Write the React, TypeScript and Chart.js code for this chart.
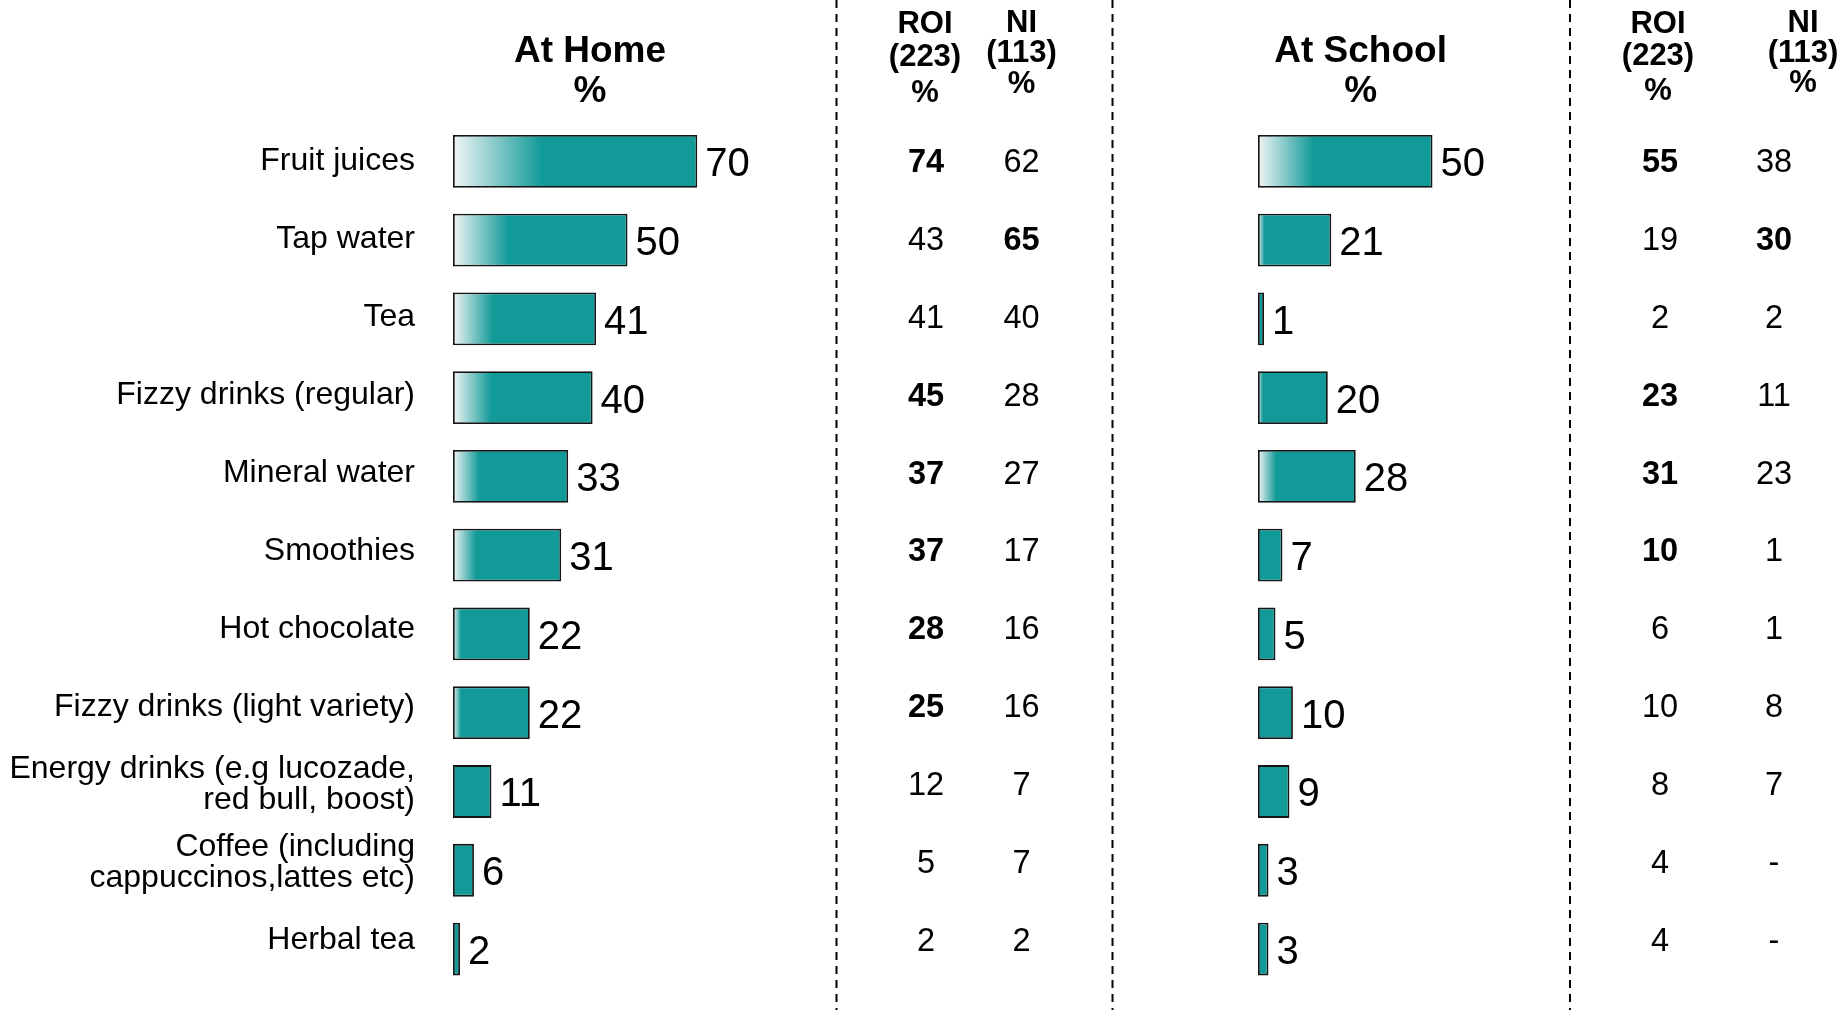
import React, { useEffect, useRef } from 'react';
import { Chart, registerables } from 'chart.js';

Chart.register(...registerables);

// ---------- data ----------
const categories: (string | string[])[] = [
  'Fruit juices',
  'Tap water',
  'Tea',
  'Fizzy drinks (regular)',
  'Mineral water',
  'Smoothies',
  'Hot chocolate',
  'Fizzy drinks (light variety)',
  ['Energy drinks (e.g lucozade,', 'red bull, boost)'],
  ['Coffee (including', 'cappuccinos,lattes etc)'],
  'Herbal tea',
];

const homeValues = [70, 50, 41, 40, 33, 31, 22, 22, 11, 6, 2];
const homeROI = ['74', '43', '41', '45', '37', '37', '28', '25', '12', '5', '2'];
const homeROIBold = [true, false, false, true, true, true, true, true, false, false, false];
const homeNI = ['62', '65', '40', '28', '27', '17', '16', '16', '7', '7', '2'];
const homeNIBold = [false, true, false, false, false, false, false, false, false, false, false];

const schoolValues = [50, 21, 1, 20, 28, 7, 5, 10, 9, 3, 3];
const schoolROI = ['55', '19', '2', '23', '31', '10', '6', '10', '8', '4', '4'];
const schoolROIBold = [true, false, false, true, true, true, false, false, false, false, false];
const schoolNI = ['38', '30', '2', '11', '23', '1', '1', '8', '7', '-', '-'];
const schoolNIBold = [false, true, false, false, false, false, false, false, false, false, false];

const homeTitle = ['At Home', '%'];
const schoolTitle = ['At School', '%'];
const roiHeader = ['ROI', '(223)', '%'];
const niHeader = ['NI', '(113)', '%'];

// ---------- style ----------
const FONT = "'Liberation Sans', Arial, Helvetica, sans-serif";
const TEAL = '#129a98';
const LIGHT = '#f1f5f5';
// text rows (labels and table) sit on a slightly tighter pitch than the bars
const TEXT_PITCH = 77.9 / 78.75;

function barFill(ctx: any) {
  const chart = ctx.chart;
  const xs = chart.scales && chart.scales.x;
  if (!xs || ctx.type !== 'data') return TEAL;
  const v = ctx.raw as number;
  const x0 = xs.getPixelForValue(0);
  const x1 = xs.getPixelForValue(v);
  if (!Number.isFinite(x0) || !Number.isFinite(x1)) return TEAL;
  const w = x1 - x0;
  const g = Math.max(0, 0.48 * (w - 60));
  if (!Number.isFinite(g) || g < 3) return TEAL;
  const grad = chart.ctx.createLinearGradient(x0, 0, x0 + g, 0);
  grad.addColorStop(0, LIGHT);
  grad.addColorStop(1, TEAL);
  return grad;
}

type TextSpec = { text: string; x: number; y: number; size: number; bold: boolean };
type ColSpec = { x: number; values: string[]; bold: boolean[] };

function textRowY(ys: any, i: number) {
  const y0 = ys.getPixelForValue(0);
  return y0 + (ys.getPixelForValue(i) - y0) * TEXT_PITCH;
}

function overlayPlugin(
  id: string,
  headers: TextSpec[],
  dashX: number[],
  cols: ColSpec[],
  labelRight: number | null
) {
  return {
    id,
    afterDatasetsDraw(chart: any) {
      const c = chart.ctx as CanvasRenderingContext2D;
      const ys = chart.scales.y;
      c.save();
      c.strokeStyle = '#000';
      c.lineWidth = 2;
      c.setLineDash([8, 6]);
      dashX.forEach((x) => {
        c.beginPath();
        c.moveTo(x, 0);
        c.lineTo(x, chart.height);
        c.stroke();
      });
      c.setLineDash([]);
      c.fillStyle = '#000';
      c.textAlign = 'center';
      c.textBaseline = 'alphabetic';
      headers.forEach((h) => {
        c.font = `${h.bold ? 'bold ' : ''}${h.size}px ${FONT}`;
        c.fillText(h.text, h.x, h.y);
      });
      // category labels
      if (labelRight !== null) {
        c.textAlign = 'right';
        c.textBaseline = 'middle';
        c.font = `32px ${FONT}`;
        (chart.data.labels as (string | string[])[]).forEach((lab, i) => {
          const lines = Array.isArray(lab) ? lab : [lab];
          const yc = textRowY(ys, i);
          lines.forEach((ln, j) => {
            c.fillText(ln, labelRight, yc + (j - (lines.length - 1) / 2) * 31);
          });
        });
        c.textBaseline = 'alphabetic';
      }
      // value labels
      const meta = chart.getDatasetMeta(0);
      const data = chart.data.datasets[0].data as number[];
      c.textAlign = 'left';
      c.font = `40px ${FONT}`;
      meta.data.forEach((el: any, i: number) => {
        c.fillText(String(data[i]), el.x + 8, el.y + 15);
      });
      // table columns
      c.textAlign = 'center';
      cols.forEach((col) => {
        col.values.forEach((v, i) => {
          const y = textRowY(ys, i);
          c.font = `${col.bold[i] ? 'bold ' : ''}32.5px ${FONT}`;
          c.fillText(v, col.x, y + 10.5);
        });
      });
      c.restore();
    },
  };
}

function baseDataset(values: number[]) {
  return {
    data: values,
    backgroundColor: barFill,
    borderColor: '#151515',
    borderWidth: 1.8,
    borderSkipped: false as const,
    barPercentage: 0.67,
    categoryPercentage: 1,
    minBarLength: 6,
  };
}

const W1 = 1120;
const W2 = 1847 - W1;
const H = 1010;
const AREA = 349; // x 0..100

export default function App() {
  const ref1 = useRef<HTMLCanvasElement>(null);
  const ref2 = useRef<HTMLCanvasElement>(null);

  useEffect(() => {
    const left1 = 453;
    const chart1 = new Chart(ref1.current!, {
      type: 'bar',
      data: { labels: categories as any, datasets: [baseDataset(homeValues) as any] },
      options: {
        indexAxis: 'y',
        responsive: false,
        animation: false,
        layout: { padding: { left: left1, right: W1 - left1 - AREA, top: 122, bottom: 21.6 } },
        plugins: { legend: { display: false }, tooltip: { enabled: false } },
        scales: {
          x: { display: false, min: 0, max: 100 },
          y: { display: false },
        },
      },
      plugins: [
        overlayPlugin(
          'overlay1',
          [
            { text: homeTitle[0], x: 590, y: 61.7, size: 37, bold: true },
            { text: homeTitle[1], x: 590, y: 101.5, size: 37, bold: true },
            { text: roiHeader[0], x: 925, y: 33.3, size: 31, bold: true },
            { text: roiHeader[1], x: 925, y: 65.5, size: 31, bold: true },
            { text: roiHeader[2], x: 925, y: 101.5, size: 31, bold: true },
            { text: niHeader[0], x: 1021.5, y: 31.7, size: 31, bold: true },
            { text: niHeader[1], x: 1021.5, y: 62, size: 31, bold: true },
            { text: niHeader[2], x: 1021.5, y: 93.3, size: 31, bold: true },
          ],
          [836.5, 1112.5],
          [
            { x: 926, values: homeROI, bold: homeROIBold },
            { x: 1021.5, values: homeNI, bold: homeNIBold },
          ],
          415
        ),
      ],
    });

    const left2 = 1258 - W1;
    const chart2 = new Chart(ref2.current!, {
      type: 'bar',
      data: { labels: categories as any, datasets: [baseDataset(schoolValues) as any] },
      options: {
        indexAxis: 'y',
        responsive: false,
        animation: false,
        layout: { padding: { left: left2, right: W2 - left2 - AREA, top: 122, bottom: 21.6 } },
        plugins: { legend: { display: false }, tooltip: { enabled: false } },
        scales: {
          x: { display: false, min: 0, max: 100 },
          y: { display: false },
        },
      },
      plugins: [
        overlayPlugin(
          'overlay2',
          [
            { text: schoolTitle[0], x: 1360.6 - W1, y: 61.7, size: 37, bold: true },
            { text: schoolTitle[1], x: 1360.6 - W1, y: 101.5, size: 37, bold: true },
            { text: roiHeader[0], x: 1658 - W1, y: 33.3, size: 31, bold: true },
            { text: roiHeader[1], x: 1658 - W1, y: 65, size: 31, bold: true },
            { text: roiHeader[2], x: 1658 - W1, y: 100, size: 31, bold: true },
            { text: niHeader[0], x: 1803 - W1, y: 31.7, size: 31, bold: true },
            { text: niHeader[1], x: 1803 - W1, y: 62, size: 31, bold: true },
            { text: niHeader[2], x: 1803 - W1, y: 91.7, size: 31, bold: true },
          ],
          [1570 - W1],
          [
            { x: 1660 - W1, values: schoolROI, bold: schoolROIBold },
            { x: 1774 - W1, values: schoolNI, bold: schoolNIBold },
          ],
          null
        ),
      ],
    });

    return () => {
      chart1.destroy();
      chart2.destroy();
    };
  }, []);

  return (
    <div style={{ position: 'absolute', left: 0, top: 0, width: 1847, height: H, background: '#fff' }}>
      <canvas ref={ref1} width={W1} height={H} style={{ position: 'absolute', left: 0, top: 0, width: W1, height: H }} />
      <canvas ref={ref2} width={W2} height={H} style={{ position: 'absolute', left: W1, top: 0, width: W2, height: H }} />
    </div>
  );
}
